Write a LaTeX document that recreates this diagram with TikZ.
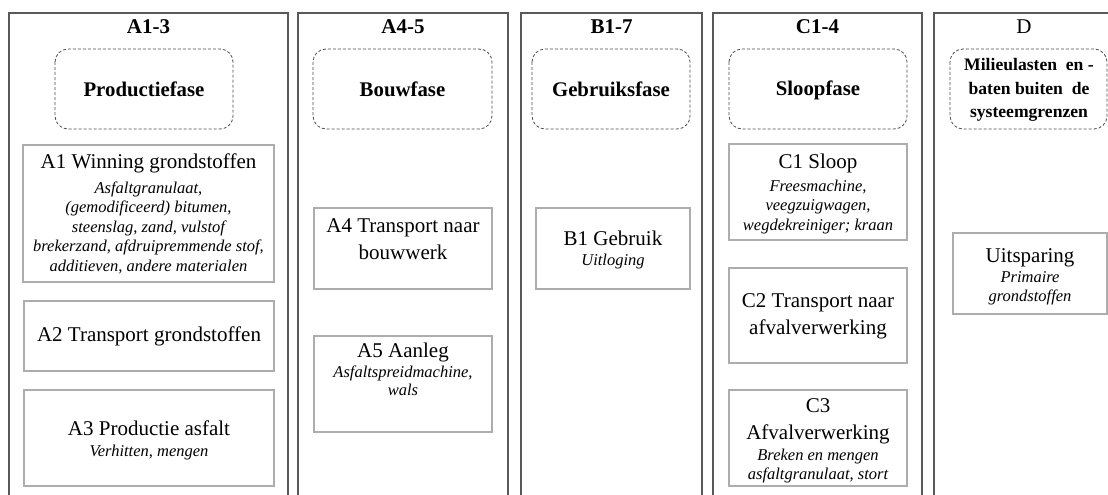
\documentclass[tikz,border=0pt]{standalone}
\usepackage{fontspec}
\setmainfont{Liberation Serif}
\usetikzlibrary{positioning}

\tikzset{
  colline/.style={draw=black!65, line width=1.1pt},
  phasebox/.style={draw=black!70, densely dashed, rounded corners=13pt, line width=0.8pt},
  stagebox/.style={draw=black!32, line width=1.1pt},
  coltitle/.style={font=\fontsize{21}{24}\selectfont\bfseries},
  phasetxt/.style={font=\fontsize{20.8}{24}\selectfont\bfseries, align=center},
  maintxt/.style={font=\fontsize{21}{27}\selectfont, align=center, inner sep=0pt},
  subtxt/.style={font=\fontsize{16.5}{19.5}\selectfont\itshape, align=center, inner sep=0pt}
}

\begin{document}
\begin{tikzpicture}[x=1pt, y=-1pt]
\useasboundingbox (0,0) rectangle (1108,495);

% kolommen (onderkant open)
\foreach \l/\r in {9/288, 298/508, 521/702, 713/922}
  \draw[colline] (\l,497) |- (\r,13) -- (\r,497);
\draw[colline] (934,497) |- (1110,13);

% fasen
\foreach \l/\r in {55/233, 313/492, 532/690, 729/907, 950/1107}
  \draw[phasebox] (\l,49) rectangle (\r,129);

% stappen
\foreach \l/\t/\r/\b in {23/145/274/282, 24/301/274/371, 24/390/274/486,
    314/208/492/289, 314/336/492/432, 536/208/690/289,
    729/144/907/240, 729/268/907/363, 729/390/907/486, 953/233/1107/314}
  \draw[stagebox] (\l,\t) rectangle (\r,\b);

% kolomtitels
\node[coltitle] (tA) at (148.5,27) {A1-3};
\node[coltitle] (tAB) at (403,27) {A4-5};
\node[coltitle] (tB) at (611.5,27) {B1-7};
\node[coltitle] (tC) at (817.5,27) {C1-4};
\node[font=\fontsize{21}{24}\selectfont] (tD) at (1024,27) {D};

\node[phasetxt] (prod) at (144,89) {Productiefase};
\node[phasetxt] (bouw) at (402.5,89) {Bouwfase};
\node[phasetxt] (gebr) at (611,89) {Gebruiksfase};
\node[phasetxt] (sloop) at (818,90) {Sloopfase};
\node[phasetxt, font=\fontsize{17.6}{23.5}\selectfont\bfseries] (mil) at (1029,90)
  {Milieulasten~ en -\\baten buiten~ de\\systeemgrenzen};

% A1-3
\node[maintxt] (a1) at (148.5,163) {A1 Winning grondstoffen};
\node[subtxt] (a1s) at (148.5,227.5) {Asfaltgranulaat,\\(gemodificeerd) bitumen,\\steenslag, zand, vulstof\\brekerzand, afdruipremmende stof,\\additieven, andere materialen};
\node[maintxt] (a2) at (149,336) {A2 Transport grondstoffen};
\node[maintxt] (a3) at (149,428) {A3 Productie asfalt};
\node[subtxt] (a3s) at (149,453) {Verhitten, mengen};

% A4-5
\node[maintxt] (a4) at (403,239) {A4 Transport naar\\bouwwerk};
\node[maintxt] (a5) at (403,352) {A5 Aanleg};
\node[subtxt, font=\fontsize{16.5}{18}\selectfont\itshape] (a5s) at (403,381) {Asfaltspreidmachine,\\wals};

% B1-7
\node[maintxt] (b1) at (613,238) {B1 Gebruik};
\node[subtxt] (b1s) at (613,262) {Uitloging};

% C1-4
\node[maintxt] (c1) at (818,163) {C1 Sloop};
\node[subtxt] (c1s) at (818,207) {Freesmachine,\\veegzuigwagen,\\wegdekreiniger; kraan};
\node[maintxt] (c2) at (818,316.5) {C2 Transport naar\\afvalverwerking};
\node[maintxt] (c3) at (818,421) {C3\\Afvalverwerking};
\node[subtxt] (c3s) at (818,466) {Breken en mengen\\asfaltgranulaat, stort};

% D
\node[maintxt] (d1) at (1030,258) {Uitsparing};
\node[subtxt] (d1s) at (1030,288.5) {Primaire\\grondstoffen};
\end{tikzpicture}
\end{document}
